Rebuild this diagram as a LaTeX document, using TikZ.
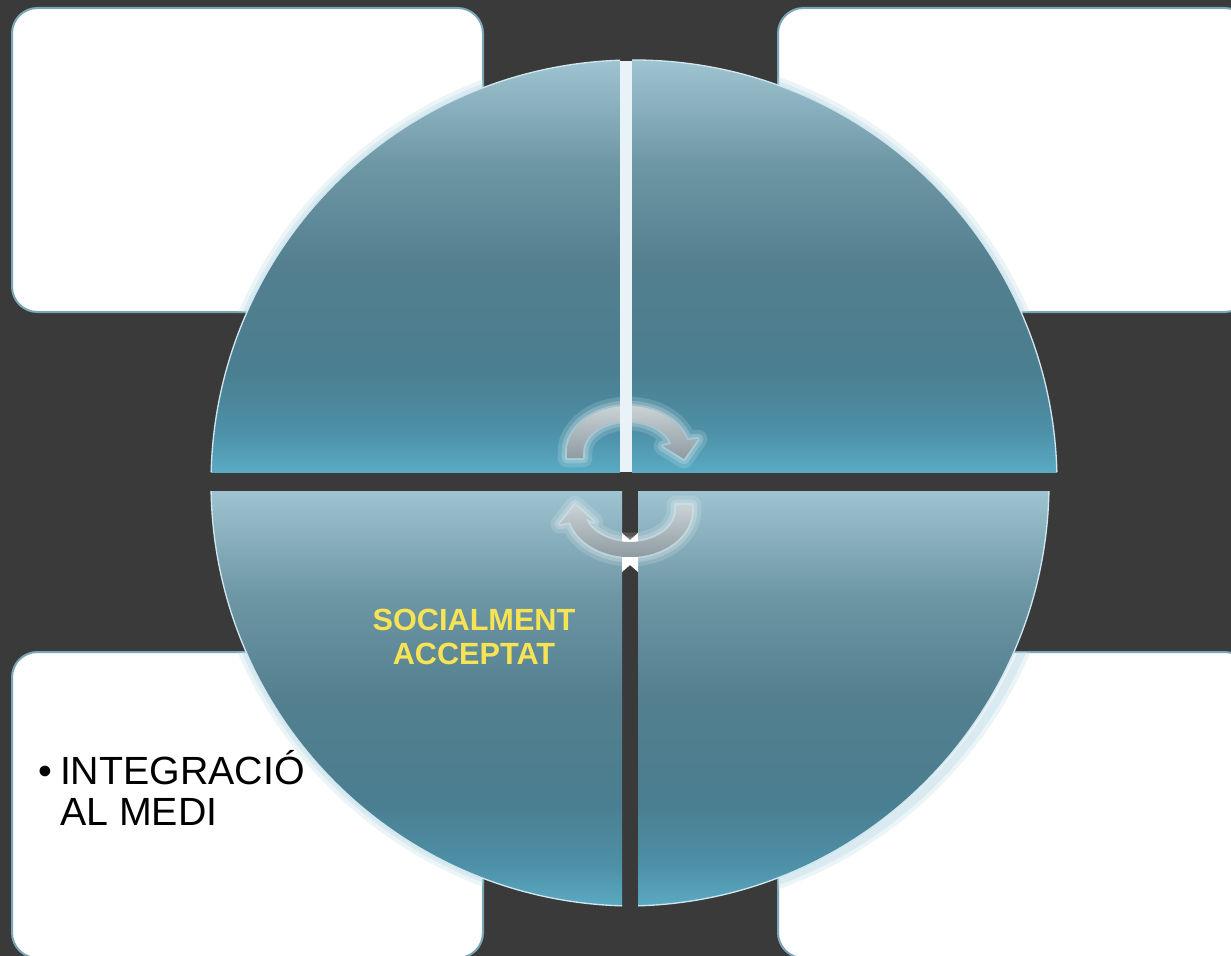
\documentclass[tikz,border=0pt]{standalone}
\usepackage{fontspec}
\setmainfont{Liberation Sans}
\definecolor{bg}{RGB}{58,58,58}
\definecolor{boxedge}{RGB}{120,166,182}
\definecolor{halo}{RGB}{190,220,230}
\definecolor{rimc}{RGB}{208,230,238}
\definecolor{stripc}{RGB}{232,242,247}
\definecolor{yel}{RGB}{247,227,84}
\definecolor{q0}{HTML}{9EC3D1}
\definecolor{q1}{HTML}{6E97A5}
\definecolor{q2}{HTML}{537F8E}
\definecolor{q3}{HTML}{4A7E91}
\definecolor{q4}{HTML}{4D90A7}
\definecolor{q5}{HTML}{5AAAC3}
\definecolor{arrtop}{HTML}{CAD2D5}
\definecolor{arrbot}{HTML}{8E9BA1}
\pgfdeclareverticalshading{quadsh}{100bp}{color(0bp)=(q5); color(25bp)=(q5); color(30bp)=(q4); color(37.5bp)=(q3); color(50bp)=(q2); color(62.5bp)=(q1); color(75bp)=(q0); color(100bp)=(q0)}
\tikzset{
  box/.style={fill=white, draw=boxedge, line width=1.5pt, rounded corners=19pt},
  quad/.style={shading=quadsh},
  rim/.style={draw=rimc, line width=1pt},
  glowa/.style={draw=white, opacity=0.15, line width=14pt, line join=round},
  glowb/.style={draw=white, opacity=0.2, line width=8pt, line join=round},
  glowc/.style={draw=white, opacity=0.25, line width=3pt, line join=round},
  arrowfill/.style={top color=arrtop, bottom color=arrbot},
}
\def\uparr{(567,458) -- (567,452) arc[start angle=180,end angle=345,x radius=61,y radius=46] -- (698,439) -- (684,459) -- (663,446) -- (671.5,444) arc[start angle=345,end angle=180,x radius=45,y radius=31] -- (583,458) -- cycle}
\def\lowarr{(692,505) -- (692,510) arc[start angle=0,end angle=165,x radius=62,y radius=47] -- (560,524) -- (575,505) -- (594,522) -- (585.6,518.3) arc[start angle=165,end angle=0,x radius=46,y radius=32] -- (676,505) -- cycle}
\begin{document}
\begin{tikzpicture}[x=0.75pt,y=-0.75pt]
\useasboundingbox (0,0) rectangle (1231,956);
\fill[bg] (0,0) rectangle (1231,956);
% boxes
\draw[box] (12,8) rectangle (483,312);
\draw[box] (778,8) rectangle (1250,312);
\draw[box] (12,652) rectangle (483,958);
\draw[box] (778,652) rectangle (1250,958);
% halo of circle over boxes
\begin{scope}
  \clip (12,8) rectangle (483,312) (778,8) rectangle (1250,312) (12,652) rectangle (483,958) (778,652) rectangle (1250,958);
  \draw[halo, opacity=0.3, line width=12pt] (634,483) circle[radius=423];
  \draw[halo, opacity=0.4, line width=6pt] (634,483) circle[radius=423];
\end{scope}
% quadrants
\begin{scope}
  \clip (634,483) circle[radius=423];
  \shade[quad] (205,61) rectangle (620,472);
  \shade[quad] (632,61) rectangle (1062,472);
  \shade[quad] (205,491) rectangle (622,906);
\end{scope}
\begin{scope}
  \clip (626,483) circle[radius=423];
  \shade[quad] (638,491) rectangle (1052,906);
\end{scope}
\begin{scope}
  \clip (190,40) rectangle (620,472) (632,40) rectangle (1080,472) (190,491) rectangle (622,920);
  \draw[rim] (634,483) circle[radius=423];
\end{scope}
\begin{scope}
  \clip (638,491) rectangle (1080,920);
  \draw[rim] (626,483) circle[radius=423];
\end{scope}
% glow patches in the lower gap
\fill[white] (622,533) -- (630,540) -- (638,533) -- (638,544) -- (622,544) -- cycle;
\fill[white] (622,557) -- (638,557) -- (638,572) -- (630,565) -- (622,572) -- cycle;
% circular arrows
\draw[glowa] \uparr;
\draw[glowb] \uparr;
\draw[glowc] \uparr;
\shade[arrowfill] \uparr;
\draw[glowa] \lowarr;
\draw[glowb] \lowarr;
\draw[glowc] \lowarr;
\shade[arrowfill] \lowarr;
% white strip between the top quadrants
\fill[stripc] (620,61) rectangle (632,472);
% texts
\node[anchor=base west, align=left, inner sep=0, font=\fontsize{29.5}{30.75}\selectfont] (integ) at (38,825) {•\hspace{6pt}INTEGRACIÓ\\\phantom{•\hspace{6pt}}AL MEDI};
\node[align=center, inner sep=0, text=yel, font=\fontsize{23}{25.5}\selectfont\bfseries] (soc) at (474,637) {SOCIALMENT\\ACCEPTAT};
\end{tikzpicture}
\end{document}
